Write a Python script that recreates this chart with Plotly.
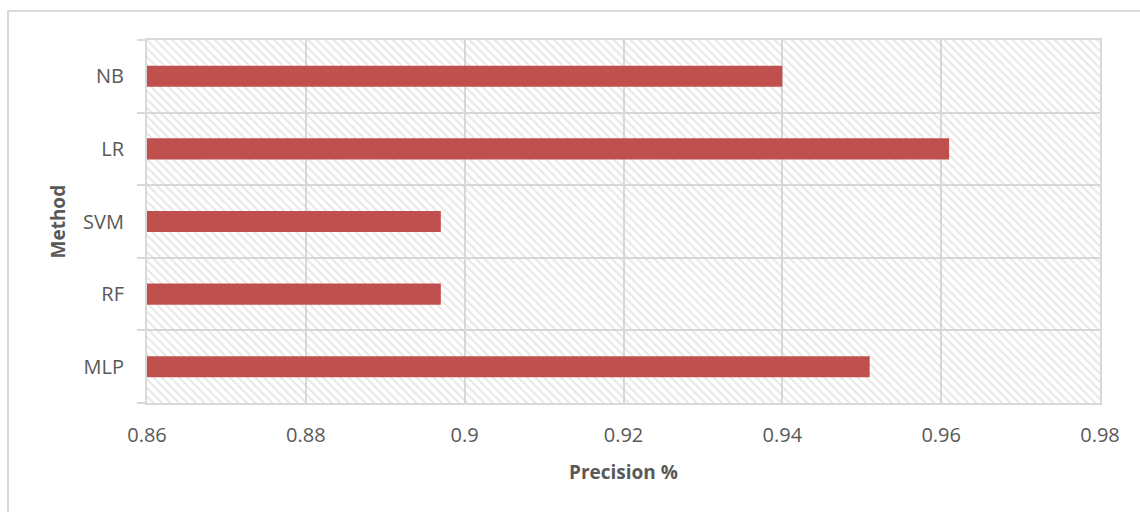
import plotly.graph_objects as go

# Classifier precision scores (bottom to top on the chart)
methods = ["MLP", "RF", "SVM", "LR", "NB"]
precision = [0.951, 0.897, 0.897, 0.961, 0.940]

x_range = [0.86, 0.98]
x_ticks = [0.86, 0.88, 0.90, 0.92, 0.94, 0.96, 0.98]
x_tick_text = ["0.86", "0.88", "0.9", "0.92", "0.94", "0.96", "0.98"]

W, H = 1140, 512
L, R, T, B = 147, 40, 40, 109
grid = "#d9d9d9"
txt = "#595959"
font_family = "Open Sans, Liberation Sans, Arial, sans-serif"

fig = go.Figure()

# Hatched plot-area background: one full-height band per category
fig.add_trace(go.Bar(
    y=methods,
    x=[x_range[1] - x_range[0]] * len(methods),
    base=x_range[0],
    orientation="h",
    width=1.0,
    marker=dict(
        color="rgba(0,0,0,0)",
        line=dict(width=0),
        pattern=dict(shape="\\", fgcolor="#cfcfcf", bgcolor="rgba(0,0,0,0)",
                     size=6, solidity=0.33),
    ),
    hoverinfo="skip",
    showlegend=False,
))

# Precision bars
fig.add_trace(go.Bar(
    y=methods,
    x=[v - x_range[0] for v in precision],
    base=x_range[0],
    orientation="h",
    width=0.29,
    marker=dict(color="#c0504d", line=dict(width=0)),
    customdata=precision,
    hovertemplate="%{y}: %{customdata}<extra></extra>",
    showlegend=False,
))

fig.update_layout(
    width=W, height=H,
    margin=dict(l=L, r=R, t=T, b=B, pad=0),
    paper_bgcolor="white",
    plot_bgcolor="white",
    barmode="overlay",
    font=dict(family=font_family, color=txt, size=20),
    xaxis=dict(
        range=x_range,
        tickvals=x_ticks,
        ticktext=x_tick_text,
        showgrid=True, gridcolor=grid, gridwidth=2,
        showline=True, linecolor=grid, linewidth=2, mirror=True,
        zeroline=False,
        ticks="",
        ticklabelstandoff=13,
        tickfont=dict(size=20, color=txt),
    ),
    yaxis=dict(
        categoryorder="array", categoryarray=methods,
        tickson="boundaries",
        ticks="outside", ticklen=8, tickcolor=grid, tickwidth=2,
        showgrid=True, gridcolor=grid, gridwidth=2,
        showline=True, linecolor=grid, linewidth=2, mirror=True,
        ticklabelstandoff=17,
        tickfont=dict(size=20, color=txt),
    ),
)

pw, ph = W - L - R, H - T - B

# Axis titles
fig.add_annotation(text="<b>Method</b>", xref="paper", yref="paper",
                   x=(57 - L) / pw, y=0.5, textangle=-90, showarrow=False,
                   font=dict(size=19, color=txt), xanchor="center", yanchor="middle")
fig.add_annotation(text="<b>Precision %</b>", xref="paper", yref="paper",
                   x=0.5, y=(H - B - 472) / ph, showarrow=False,
                   font=dict(size=19, color=txt), xanchor="center", yanchor="middle")

# Chart-area border (runs off the right and bottom edges)
fig.add_shape(type="rect", xref="paper", yref="paper",
              x0=(8 - L) / pw, x1=(W + 5 - L) / pw,
              y0=(H - B - (H + 5)) / ph, y1=(H - B - 11) / ph,
              line=dict(color=grid, width=2), fillcolor="rgba(0,0,0,0)", layer="below")

fig.write_html("out.html")
